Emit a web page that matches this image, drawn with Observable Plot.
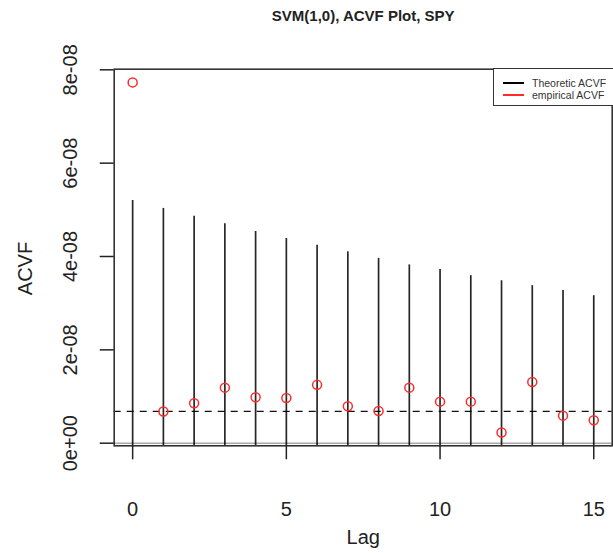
<!DOCTYPE html>
<html><head><meta charset="utf-8">
<script src="https://cdn.jsdelivr.net/npm/d3@7"></script>
<script src="https://cdn.jsdelivr.net/npm/@observablehq/plot@0.6"></script>
<style>
body{margin:0;background:#fff;overflow:hidden}
#wrap{position:relative;width:613px;height:553px;overflow:hidden;font-family:"Liberation Sans",Arial,Helvetica,sans-serif}
#legend{position:absolute;left:493px;top:67.5px;width:130px;height:38px;border:1.5px solid #333;background:#fff;box-sizing:border-box}
.lrow{position:absolute;left:0;height:12px;width:130px}
.lsw{position:absolute;left:9px;top:5px;width:21px;height:0;border-top:2px solid #000}
.ltx{position:absolute;left:38px;top:0;font-size:10.5px;line-height:12px;color:#333;white-space:nowrap}
</style>
</head><body>
<div id="wrap"></div>
<script>
const title = "SVM(1,0), ACVF Plot, SPY";
const xLabel = "Lag";
const yLabel = "ACVF";
const lags = [0,1,2,3,4,5,6,7,8,9,10,11,12,13,14,15];
const theoretic = [5.20e-8,5.03e-8,4.86e-8,4.70e-8,4.535e-8,4.385e-8,4.24e-8,4.10e-8,3.96e-8,3.82e-8,3.72e-8,3.59e-8,3.48e-8,3.375e-8,3.27e-8,3.16e-8];
const empirical = [7.73e-8,0.68e-8,0.857e-8,1.19e-8,0.985e-8,0.97e-8,1.25e-8,0.79e-8,0.69e-8,1.19e-8,0.89e-8,0.89e-8,0.23e-8,1.31e-8,0.59e-8,0.49e-8];
const meanLine = 0.68e-8;
const xTicks = [0,5,10,15];
const yTicks = [0,2e-8,4e-8,6e-8,8e-8];
const yTickLabels = ["0e+00","2e-08","4e-08","6e-08","8e-08"];
const seriesNames = ["Theoretic ACVF","empirical ACVF"];
const seriesColors = ["#000000","#ff2a2a"];

const yMin = -0.056e-8, yMax = 8.013e-8;
const chart = Plot.plot({
  width: 613, height: 553,
  marginLeft: 113.7, marginRight: 1.3, marginTop: 68.7, marginBottom: 107.7,
  style: {fontFamily: '"Liberation Sans",Arial,Helvetica,sans-serif', background: "#fff", color: "#222"},
  x: {domain: [-0.6, 15.6], label: null},
  y: {domain: [yMin, yMax], label: null},
  marks: [
    Plot.ruleY([0], {stroke: "#aaa", strokeWidth: 1.5}),
    Plot.ruleY([meanLine], {stroke: "#111", strokeWidth: 1.3, strokeDasharray: "7,6"}),
    Plot.ruleX(lags, {x: d => d, y1: yMin, y2: (d, i) => theoretic[i], stroke: seriesColors[0], strokeWidth: 1.7, strokeOpacity: 0.85}),
    Plot.dot(lags, {x: d => d, y: (d, i) => empirical[i], r: 4.5, stroke: seriesColors[1], strokeWidth: 1.5, fill: "none"}),
    Plot.frame({stroke: "#333", strokeWidth: 1.6}),
    Plot.axisX({ticks: xTicks, tickSize: 14, tickPadding: 42, fontSize: 20, label: null, strokeWidth: 1.5}),
    Plot.axisY({ticks: yTicks, tickSize: 14, tickPadding: 23, tickRotate: -90, fontSize: 20, label: null, strokeWidth: 1.5,
      tickFormat: d => yTickLabels[yTicks.indexOf(d)]}),
    Plot.text([title], {frameAnchor: "top", dy: -52.7, lineAnchor: "middle", textAnchor: "middle", fontWeight: "bold", fontSize: 15, text: d => d}),
    Plot.text([xLabel], {frameAnchor: "bottom", dy: 91.7, lineAnchor: "middle", textAnchor: "middle", fontSize: 20, text: d => d}),
    Plot.text([yLabel], {frameAnchor: "left", dx: -88.7, dy: 11, rotate: -90, lineAnchor: "middle", textAnchor: "middle", fontSize: 20, text: d => d})
  ]
});
const wrap = document.getElementById("wrap");
wrap.appendChild(chart);
const lg = document.createElement("div");
lg.id = "legend";
seriesNames.forEach((name, i) => {
  const row = document.createElement("div");
  row.className = "lrow";
  row.style.top = (8 + i * 12) + "px";
  const sw = document.createElement("div");
  sw.className = "lsw";
  sw.style.borderTopColor = seriesColors[i];
  const tx = document.createElement("div");
  tx.className = "ltx";
  tx.textContent = name;
  row.appendChild(sw); row.appendChild(tx);
  lg.appendChild(row);
});
wrap.appendChild(lg);
</script>
</body></html>
